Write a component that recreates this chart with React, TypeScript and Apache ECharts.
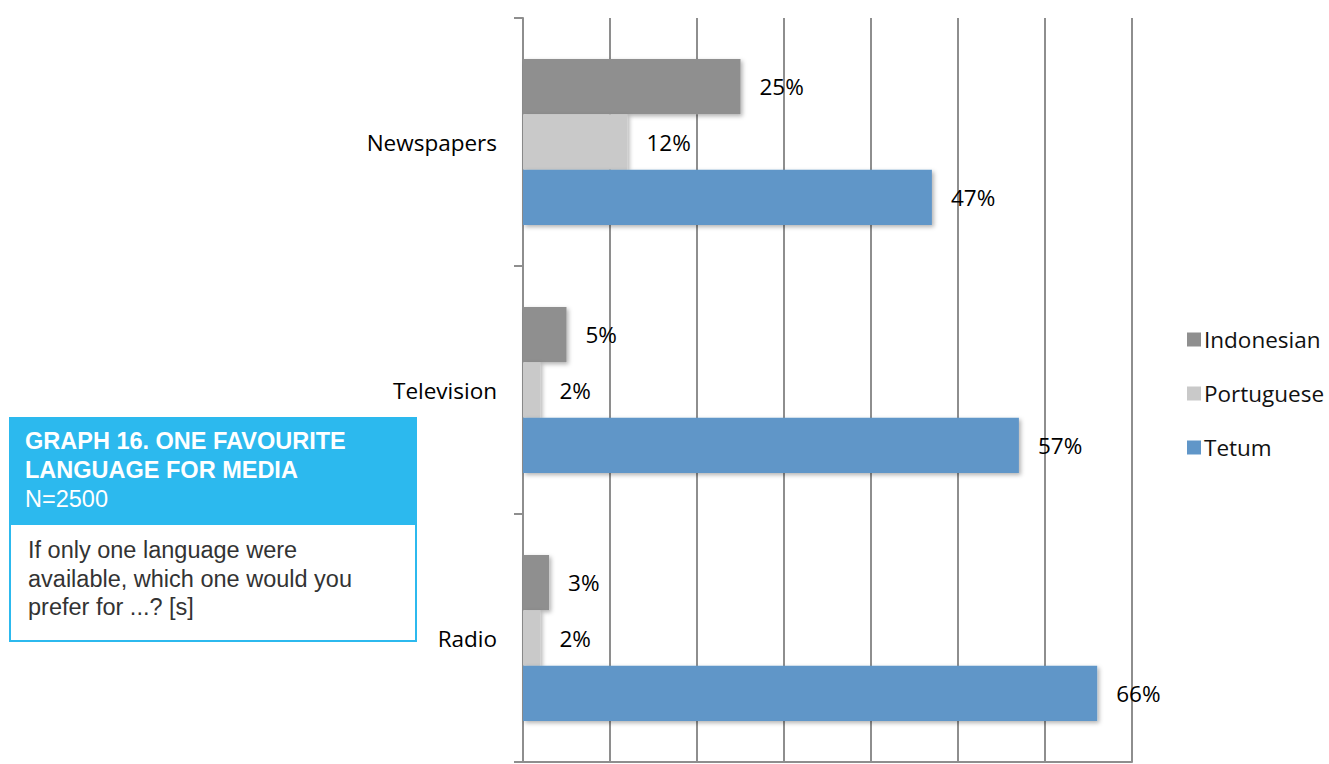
import React, { useEffect, useRef } from "react";
import * as echarts from "echarts";

const categories = ["Newspapers", "Television", "Radio"];
const seriesNames = ["Indonesian", "Portuguese", "Tetum"];
const indonesian = [25, 5, 3];
const portuguese = [12, 2, 2];
const tetum = [47, 57, 66];
const seriesColors = ["#8F8F8F", "#C9C9C9", "#6096C8"];
const titleLines = ["GRAPH 16. ONE FAVOURITE", "LANGUAGE FOR MEDIA"];
const subtitle = "N=2500";
const questionLines = [
  "If only one language were",
  "available, which one would you",
  "prefer for ...? [s]",
];

export default function App() {
  const ref = useRef<HTMLDivElement>(null);
  useEffect(() => {
    if (!ref.current) return;
    const chart = echarts.init(ref.current, undefined, { renderer: "svg" });
    const values = [indonesian, portuguese, tetum];
    const font = "'Open Sans', sans-serif";
    const boxFont = "'Liberation Sans', Arial, sans-serif";
    chart.setOption({
      animation: false,
      backgroundColor: "#ffffff",
      grid: { left: 523, right: 197, top: 18, bottom: 2, containLabel: false },
      legend: {
        orient: "vertical",
        left: 1182,
        top: 323,
        itemWidth: 14,
        itemHeight: 14,
        itemGap: 31,
        icon: "rect",
        data: seriesNames,
        textStyle: { fontFamily: font, fontSize: 22.5, color: "#111", lineHeight: 22, padding: [0, 0, 0, -2] },
      },
      xAxis: {
        type: "value",
        min: 0,
        max: 70,
        interval: 10,
        axisLabel: { show: false },
        axisTick: { show: false },
        axisLine: { show: true, lineStyle: { color: "#8E8E8E", width: 2 } },
        splitLine: { show: true, lineStyle: { color: "#8E8E8E", width: 2 } },
      },
      yAxis: {
        type: "category",
        data: categories,
        inverse: true,
        axisLine: { show: true, lineStyle: { color: "#8E8E8E", width: 2 } },
        axisTick: { show: true, length: 9, lineStyle: { color: "#8E8E8E", width: 2 } },
        axisLabel: { fontFamily: font, fontSize: 22.5, color: "#000", margin: 26 },
      },
      series: seriesNames.map((name, i) => ({
        name,
        type: "bar",
        data: values[i],
        barGap: "0%",
        barCategoryGap: "33%",
        itemStyle: {
          color: seriesColors[i],
          shadowColor: "rgba(0,0,0,0.3)",
          shadowBlur: 4,
          shadowOffsetX: 2,
          shadowOffsetY: 2,
        },
        label: {
          show: true,
          position: "right",
          distance: 19,
          formatter: "{c}%",
          fontFamily: font,
          fontSize: 22.5,
          color: "#000",
        },
      })),
      graphic: [
        {
          type: "rect",
          shape: { x: 9, y: 417, width: 408, height: 107 },
          style: { fill: "#2CB9EE" },
        },
        {
          type: "rect",
          shape: { x: 10, y: 524, width: 406, height: 117 },
          style: { fill: "#ffffff", stroke: "#2CB9EE", lineWidth: 2 },
        },
        ...titleLines.map((t, i) => ({
          type: "text",
          x: 25,
          y: 441 + i * 29,
          style: {
            text: t,
            fill: "#ffffff",
            font: `bold 23.5px ${boxFont}`,
            verticalAlign: "middle",
          },
        })),
        {
          type: "text",
          x: 25,
          y: 499,
          style: {
            text: subtitle,
            fill: "#ffffff",
            font: `23.5px ${boxFont}`,
            verticalAlign: "middle",
          },
        },
        ...questionLines.map((t, i) => ({
          type: "text",
          x: 28,
          y: 550 + i * 28.5,
          style: {
            text: t,
            fill: "#333333",
            font: `23.5px ${boxFont}`,
            verticalAlign: "middle",
          },
        })),
      ],
    });
    return () => chart.dispose();
  }, []);
  return (
    <div
      ref={ref}
      style={{ position: "fixed", left: 0, top: 0, width: 1329, height: 764, background: "#fff" }}
    />
  );
}
